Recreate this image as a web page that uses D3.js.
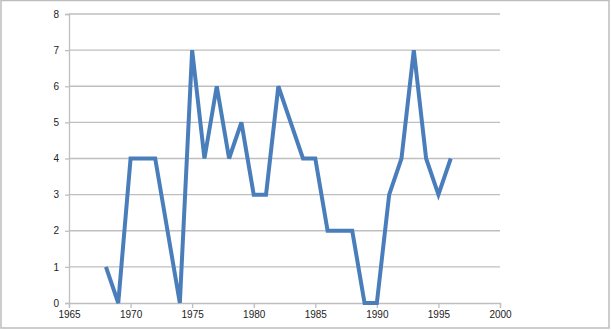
<!DOCTYPE html>
<html>
<head>
<meta charset="utf-8">
<script src="https://cdn.jsdelivr.net/npm/d3@7"></script>
<style>
  body { margin: 0; background: #fff; }
  svg text { font-family: "Liberation Sans", Arial, sans-serif; font-size: 10px; fill: #222; }
</style>
</head>
<body>
<div id="chart"></div>
<script>
var years = [1968, 1969, 1970, 1971, 1972, 1973, 1974, 1975, 1976, 1977, 1978, 1979, 1980, 1981, 1982,
             1983, 1984, 1985, 1986, 1987, 1988, 1989, 1990, 1991, 1992, 1993, 1994, 1995, 1996];
var counts = [1, 0, 4, 4, 4, 2, 0, 7, 4, 6, 4, 5, 3, 3, 6,
              5, 4, 4, 2, 2, 2, 0, 0, 3, 4, 7, 4, 3, 4];
var xTicks = [1965, 1970, 1975, 1980, 1985, 1990, 1995, 2000];
var yTicks = [0, 1, 2, 3, 4, 5, 6, 7, 8];

var width = 611, height = 330;
var svg = d3.select("#chart").append("svg").attr("width", width).attr("height", height);

// outer frame
svg.append("rect")
  .attr("x", 1).attr("y", 0.5).attr("width", 608).attr("height", 327.5)
  .attr("fill", "#fff").attr("stroke", "#bdbdbd").attr("stroke-width", 1.5);

var x = d3.scaleLinear().domain([1965, 2000]).range([69, 500]);
var y = d3.scaleLinear().domain([0, 8]).range([303, 14]);

// gridlines
svg.append("g").selectAll("line").data(yTicks.filter(function(d) { return d > 0; })).enter()
  .append("line")
  .attr("x1", x(1965)).attr("x2", x(2000))
  .attr("y1", function(d) { return y(d); }).attr("y2", function(d) { return y(d); })
  .attr("stroke", "#bfbfbf").attr("stroke-width", 1.3);

// axes
var xAxis = svg.append("g").attr("transform", "translate(0," + y(0) + ")")
  .call(d3.axisBottom(x).tickValues(xTicks).tickFormat(d3.format("d")).tickSize(5).tickPadding(3));
var yAxis = svg.append("g").attr("transform", "translate(" + x(1965) + ",0)")
  .call(d3.axisLeft(y).tickValues(yTicks).tickSize(4).tickPadding(6));

[xAxis, yAxis].forEach(function(a) {
  a.select(".domain").attr("stroke", "#bfbfbf").attr("stroke-width", 1.3);
  a.selectAll(".tick line").attr("stroke", "#bfbfbf").attr("stroke-width", 1.3);
  a.selectAll("text").attr("fill", "#222").style("font-size", "10px");
});

var line = d3.line()
  .x(function(d) { return x(d[0]); })
  .y(function(d) { return y(d[1]); });

svg.append("path")
  .datum(d3.zip(years, counts))
  .attr("d", line)
  .attr("fill", "none")
  .attr("stroke", "#4a7ebb")
  .attr("stroke-width", 4)
  .attr("stroke-linejoin", "miter")
  .attr("stroke-linecap", "butt");
</script>
</body>
</html>
